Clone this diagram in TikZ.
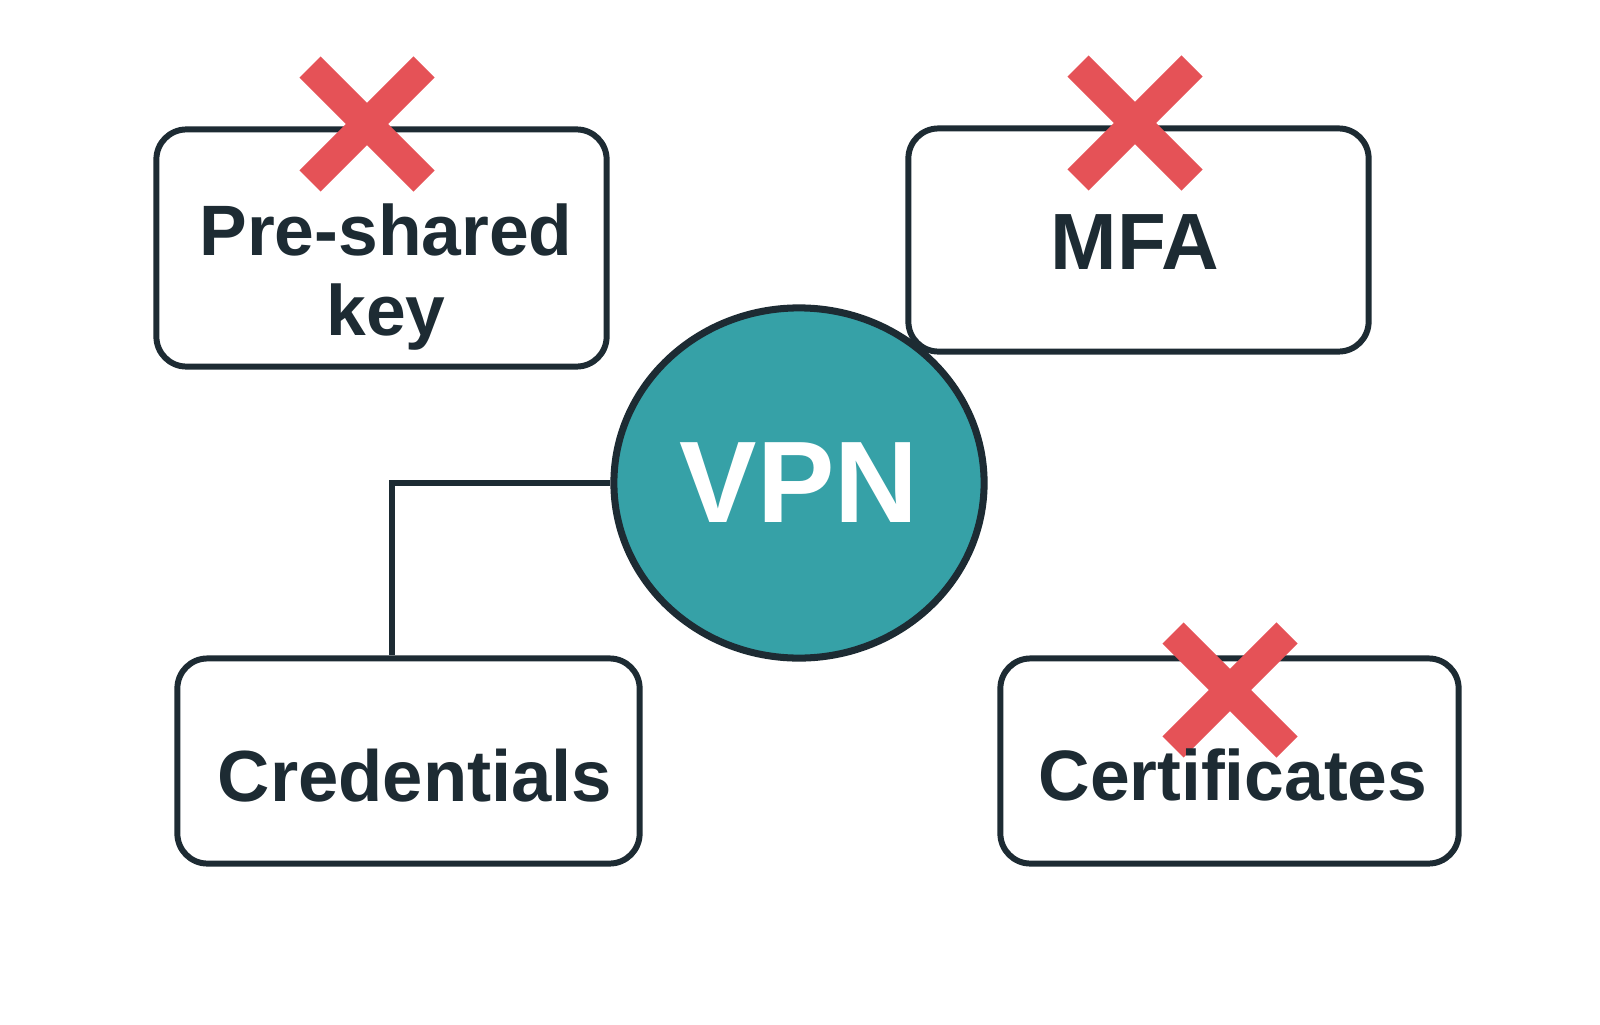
\documentclass[tikz,border=0pt]{standalone}
\usepackage{fontspec}
\setmainfont{Liberation Sans}
\usepackage{xcolor}
\usepackage{tikz}
\usetikzlibrary{shapes.geometric}

\definecolor{inkdark}{HTML}{1D2B33}
\definecolor{vpnteal}{HTML}{36A1A7}
\definecolor{crossred}{HTML}{E55257}

\tikzset{
    box/.style={draw=inkdark, line width=1.7pt, rounded corners=3mm, fill=white, inner sep=0pt},
    hub/.style={ellipse, draw=inkdark, line width=2pt, fill=vpnteal, text=white, inner sep=0pt,
        font=\fontsize{33}{33}\selectfont\bfseries},
    lbl/.style={text=inkdark, align=center, font=\fontsize{20.3}{22.8}\selectfont\bfseries},
    redx/.style={draw=crossred, line width=8.5pt},
}

\begin{document}
\begin{tikzpicture}[x=0.01cm, y=-0.01cm]
    \useasboundingbox (0,0) rectangle (1600,1024);
    % The four boxes
    \node[box, minimum width=4.5cm, minimum height=2.37cm] (psk) at (381.5,248) {};
    \node[box, minimum width=4.6cm, minimum height=2.23cm] (mfa) at (1138.5,240) {};
    \node[box, minimum width=4.62cm, minimum height=2.05cm] (cred) at (408.5,761) {};
    \node[box, minimum width=4.58cm, minimum height=2.05cm] (cert) at (1229.5,761) {};
    % VPN in the middle
    \node[hub, minimum width=3.7cm, minimum height=3.5cm] (vpn) at (799,483) {VPN};
    % Line down to credentials
    \draw[inkdark, line width=1.7pt] (vpn.west) -| ([xshift=-0.165cm]cred.north);
    % Red crosses
    \foreach \cx/\cy in {367/124, 1135/123, 1230/690} {
        \draw[redx] (\cx-57,\cy-57) -- (\cx+57,\cy+57);
        \draw[redx] (\cx+57,\cy-57) -- (\cx-57,\cy+57);
    }
    % Box labels
    \node[lbl] (psktext) at (386,277) {Pre-shared\\key};
    \node[lbl, anchor=base, font=\fontsize{22.7}{22.7}\selectfont\bfseries] (mfatext) at (1135,269) {MFA};
    \node[lbl, anchor=base, font=\fontsize{20.6}{20.6}\selectfont\bfseries] (credtext) at (415,801) {Credentials};
    \node[lbl, anchor=base] (certtext) at (1233,800) {Certificates};
\end{tikzpicture}
\end{document}
